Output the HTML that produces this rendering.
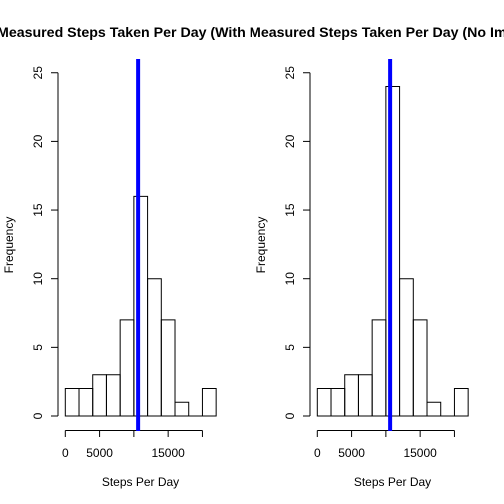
<!DOCTYPE html>
<html><head><meta charset="utf-8"><style>
html,body{margin:0;padding:0;background:#fff;}
svg{display:block;font-family:"Liberation Sans",Arial,sans-serif;}
</style></head><body>
<svg id="c" width="504" height="504" viewBox="0 0 504 504">
<defs>
<clipPath id="cl"><rect x="0" y="0" width="252" height="504"/></clipPath>
<clipPath id="cr"><rect x="252" y="0" width="252" height="504"/></clipPath>
</defs>
</svg>
<script>
const binStarts = [0,2000,4000,6000,8000,10000,12000,14000,16000,18000,20000];
const binWidth = 2000;
const countsImputed = [2,2,3,3,7,16,10,7,1,0,2];
const countsNoNA = [2,2,3,3,7,24,10,7,1,0,2];
const meanLeft = 10766;
const meanRight = 10766;
const xTicks = [0,5000,10000,15000,20000];
const xTickLabels = ["0","5000","","15000",""];
const yTicks = [0,5,10,15,20,25];
const titles = ["Measured Steps Taken Per Day (With Imputed Values)","Measured Steps Taken Per Day (No Imputed Values)"];

const NS="http://www.w3.org/2000/svg";
const svg=document.getElementById('c');
function mk(tag,attrs,parent){const e=document.createElementNS(NS,tag);for(const k in attrs)e.setAttribute(k,attrs[k]);(parent||svg).appendChild(e);return e;}

function panel(off,counts,mean,title,clip,idx){
  const g=mk('g',{});
  
  
  const X=v=>off+65.3+v*0.006857;
  const Y=v=>416-v*13.73;
  const t=mk('text',{x:off-3,y:37,'font-size':14.2,'font-weight':'bold','clip-path':'url(#'+clip+')'},g);
  t.textContent=title;
  
  
  counts.forEach((c,i)=>{
    const x0=X(binStarts[i]),x1=X(binStarts[i]+binWidth),y0=Y(0),y1=Y(c);
    const r=mk('path',{d:`M${x0},${y0}L${x0},${y1}L${x1},${y1}L${x1},${y0}Z`,fill:'none',stroke:'#000','stroke-width':1},g);
    
    
  });
  const ya=mk('g',{},g);
  
  
  mk('line',{x1:off+58,x2:off+58,y1:Y(0),y2:Y(25),stroke:'#000'},ya);
  yTicks.forEach(v=>{
    mk('line',{x1:off+51,x2:off+58,y1:Y(v),y2:Y(v),stroke:'#000'},ya);
    const tl=mk('text',{x:off+42,y:Y(v),'font-size':12,'text-anchor':'middle',transform:`rotate(-90 ${off+42} ${Y(v)})`},ya);
    tl.textContent=v;
    
    
  });
  const yl=mk('text',{x:off+13,y:245,'font-size':12,'text-anchor':'middle',transform:`rotate(-90 ${off+13} 245)`},g);
  yl.textContent='Frequency';
  
  
  const xa=mk('g',{},g);
  
  
  mk('line',{x1:X(0),x2:X(20000),y1:430.5,y2:430.5,stroke:'#000'},xa);
  xTicks.forEach((v,i)=>{
    mk('line',{x1:X(v),x2:X(v),y1:430.5,y2:437,stroke:'#000'},xa);
    const tl=mk('text',{x:X(v),y:457,'font-size':12,'text-anchor':'middle'},xa);
    tl.textContent=xTickLabels[i];
    
    
  });
  const xl=mk('text',{x:off+140.5,y:486,'font-size':12,'text-anchor':'middle'},g);
  xl.textContent='Steps Per Day';
  
  
  const ml=mk('line',{x1:X(mean)-1,x2:X(mean)-1,y1:59,y2:431,stroke:'#0000ff','stroke-width':4},g);
  
  
}
panel(0,countsImputed,meanLeft,titles[0],'cl',1);
panel(252,countsNoNA,meanRight,titles[1],'cr',2);
</script>
</body></html>
